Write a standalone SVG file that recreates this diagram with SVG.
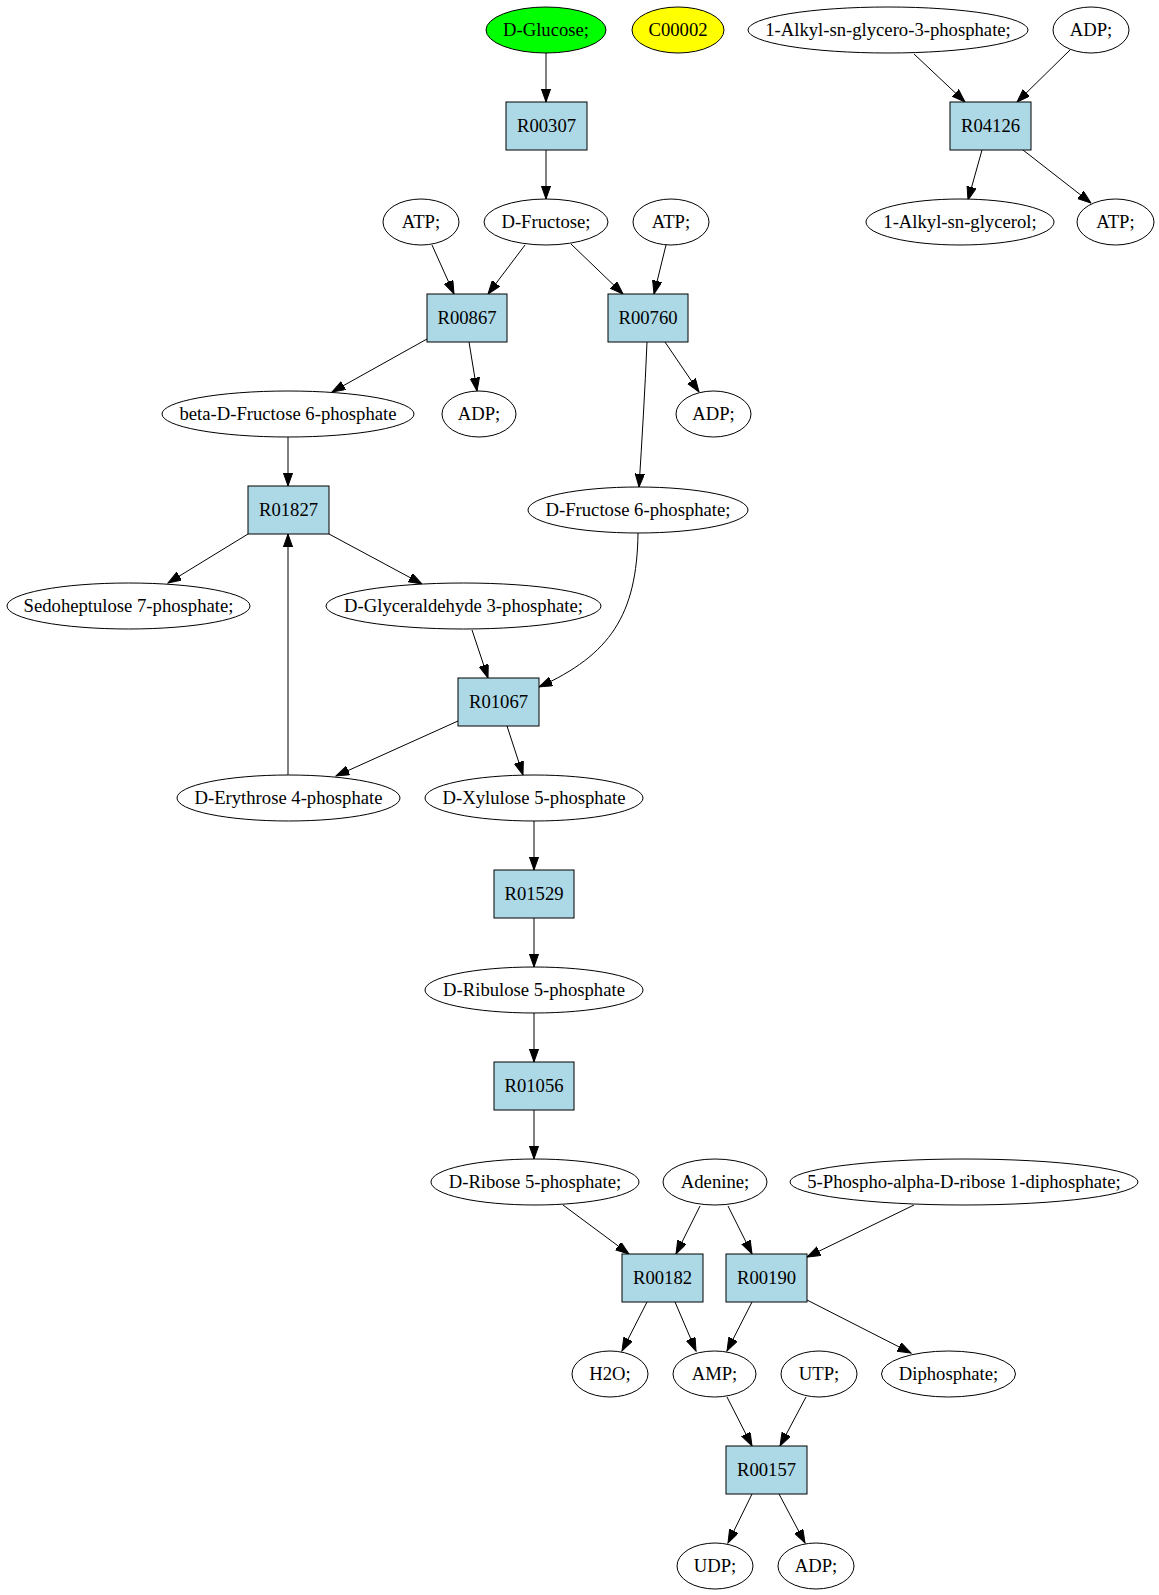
<svg xmlns="http://www.w3.org/2000/svg" width="1159" height="1595" viewBox="0 0 1159 1595">
<style>
.n ellipse{fill:#ffffff;stroke:#000;stroke-width:1}
.n rect{fill:#add8e6;stroke:#000;stroke-width:1}
text{font-family:"Liberation Serif","Times New Roman",serif;font-size:18.67px;text-anchor:middle;fill:#000}
#edges path{fill:none;stroke:#000;stroke-width:1;marker-end:url(#arr)}
</style>
<defs>
<marker id="arr" markerUnits="userSpaceOnUse" markerWidth="14" markerHeight="10" refX="13.3" refY="4.7" orient="auto" viewBox="0 0 14 10">
<path d="M0,0 L13.3,4.7 L0,9.4 z" fill="#000" stroke="#000" stroke-width="1"/>
</marker>
</defs>
<rect x="0" y="0" width="1159" height="1595" fill="#ffffff"/>
<g id="edges">
<path d="M546,53 L546,102"/>
<path d="M546,150 L546,199"/>
<path d="M432,245 L454,294"/>
<path d="M525,245 L488,294"/>
<path d="M571,244 L623,294"/>
<path d="M666,245 L654,294"/>
<path d="M427,339 L332,392"/>
<path d="M469,342 L477,391"/>
<path d="M665,342 L699,392"/>
<path d="M647,342 C645,390 642,440 639,487"/>
<path d="M288,437 L288,486"/>
<path d="M248,534 L168,583"/>
<path d="M329,534 L422,584"/>
<path d="M472,630 L488,678"/>
<path d="M638,533 C637,615 610,655 539,687"/>
<path d="M458,721 L336,776"/>
<path d="M507,726 L523,775"/>
<path d="M288,775 L288,534"/>
<path d="M534,821 L534,870"/>
<path d="M534,918 L534,967"/>
<path d="M534,1013 L534,1062"/>
<path d="M534,1110 L534,1159"/>
<path d="M563,1205 L629,1254"/>
<path d="M700,1206 L676,1254"/>
<path d="M728,1206 L752,1254"/>
<path d="M914,1205 L807,1257"/>
<path d="M647,1302 L622,1351"/>
<path d="M675,1302 L696,1351"/>
<path d="M752,1302 L727,1351"/>
<path d="M807,1300 L911,1353"/>
<path d="M727,1397 L752,1446"/>
<path d="M806,1397 L780,1446"/>
<path d="M752,1494 L728,1543"/>
<path d="M779,1494 L805,1543"/>
<path d="M914,54 L965,102"/>
<path d="M1070,50 L1017,102"/>
<path d="M982,150 L968,200"/>
<path d="M1023,150 L1091,203"/>
</g>
<g id="n_glucose" class="n"><ellipse cx="546" cy="30" rx="60" ry="23" style="fill:#00ff00"/><text x="546" y="36">D-Glucose;</text></g>
<g id="n_c00002" class="n"><ellipse cx="678" cy="30" rx="46" ry="23" style="fill:#ffff00"/><text x="678" y="36">C00002</text></g>
<g id="n_alkylg3p" class="n"><ellipse cx="888" cy="30" rx="140" ry="23"/><text x="888" y="36">1-Alkyl-sn-glycero-3-phosphate;</text></g>
<g id="n_adp1" class="n"><ellipse cx="1091" cy="30" rx="38" ry="23"/><text x="1091" y="36">ADP;</text></g>
<g id="n_R00307" class="n"><rect x="506" y="102" width="81" height="48"/><text x="546.5" y="132">R00307</text></g>
<g id="n_R04126" class="n"><rect x="950" y="102" width="81" height="48"/><text x="990.5" y="132">R04126</text></g>
<g id="n_atp1" class="n"><ellipse cx="421" cy="222" rx="38" ry="23"/><text x="421" y="228">ATP;</text></g>
<g id="n_fructose" class="n"><ellipse cx="546" cy="222" rx="62" ry="23"/><text x="546" y="228">D-Fructose;</text></g>
<g id="n_atp2" class="n"><ellipse cx="671" cy="222" rx="38" ry="23"/><text x="671" y="228">ATP;</text></g>
<g id="n_alkylglycerol" class="n"><ellipse cx="960" cy="222" rx="94" ry="23"/><text x="960" y="228">1-Alkyl-sn-glycerol;</text></g>
<g id="n_atp3" class="n"><ellipse cx="1115.5" cy="222" rx="38.5" ry="23"/><text x="1115.5" y="228">ATP;</text></g>
<g id="n_R00867" class="n"><rect x="427" y="294" width="80" height="48"/><text x="467" y="324">R00867</text></g>
<g id="n_R00760" class="n"><rect x="608" y="294" width="80" height="48"/><text x="648" y="324">R00760</text></g>
<g id="n_bf6p" class="n"><ellipse cx="288" cy="414" rx="126" ry="23"/><text x="288" y="420">beta-D-Fructose 6-phosphate</text></g>
<g id="n_adp2" class="n"><ellipse cx="479" cy="414" rx="37" ry="23"/><text x="479" y="420">ADP;</text></g>
<g id="n_adp3" class="n"><ellipse cx="713.5" cy="414" rx="37.5" ry="23"/><text x="713.5" y="420">ADP;</text></g>
<g id="n_R01827" class="n"><rect x="248" y="486" width="81" height="48"/><text x="288.5" y="516">R01827</text></g>
<g id="n_f6p" class="n"><ellipse cx="638" cy="510" rx="110" ry="23"/><text x="638" y="516">D-Fructose 6-phosphate;</text></g>
<g id="n_s7p" class="n"><ellipse cx="128.5" cy="606" rx="121.5" ry="23"/><text x="128.5" y="612">Sedoheptulose 7-phosphate;</text></g>
<g id="n_g3p" class="n"><ellipse cx="463.5" cy="606" rx="137.5" ry="23"/><text x="463.5" y="612">D-Glyceraldehyde 3-phosphate;</text></g>
<g id="n_R01067" class="n"><rect x="458" y="678" width="81" height="48"/><text x="498.5" y="708">R01067</text></g>
<g id="n_e4p" class="n"><ellipse cx="288.5" cy="798" rx="111.5" ry="23"/><text x="288.5" y="804">D-Erythrose 4-phosphate</text></g>
<g id="n_x5p" class="n"><ellipse cx="534" cy="798" rx="109" ry="23"/><text x="534" y="804">D-Xylulose 5-phosphate</text></g>
<g id="n_R01529" class="n"><rect x="494" y="870" width="80" height="48"/><text x="534" y="900">R01529</text></g>
<g id="n_ru5p" class="n"><ellipse cx="534" cy="990" rx="109" ry="23"/><text x="534" y="996">D-Ribulose 5-phosphate</text></g>
<g id="n_R01056" class="n"><rect x="494" y="1062" width="80" height="48"/><text x="534" y="1092">R01056</text></g>
<g id="n_r5p" class="n"><ellipse cx="535" cy="1182" rx="104" ry="23"/><text x="535" y="1188">D-Ribose 5-phosphate;</text></g>
<g id="n_adenine" class="n"><ellipse cx="715" cy="1182" rx="52" ry="23"/><text x="715" y="1188">Adenine;</text></g>
<g id="n_prpp" class="n"><ellipse cx="964" cy="1182" rx="174" ry="23"/><text x="964" y="1188">5-Phospho-alpha-D-ribose 1-diphosphate;</text></g>
<g id="n_R00182" class="n"><rect x="622" y="1254" width="81" height="48"/><text x="662.5" y="1284">R00182</text></g>
<g id="n_R00190" class="n"><rect x="726" y="1254" width="81" height="48"/><text x="766.5" y="1284">R00190</text></g>
<g id="n_h2o" class="n"><ellipse cx="610" cy="1374" rx="38" ry="23"/><text x="610" y="1380">H2O;</text></g>
<g id="n_amp" class="n"><ellipse cx="714.5" cy="1374" rx="41.5" ry="23"/><text x="714.5" y="1380">AMP;</text></g>
<g id="n_utp" class="n"><ellipse cx="819" cy="1374" rx="38" ry="23"/><text x="819" y="1380">UTP;</text></g>
<g id="n_ppi" class="n"><ellipse cx="948.5" cy="1374" rx="67" ry="23"/><text x="948.5" y="1380">Diphosphate;</text></g>
<g id="n_R00157" class="n"><rect x="726" y="1446" width="81" height="48"/><text x="766.5" y="1476">R00157</text></g>
<g id="n_udp" class="n"><ellipse cx="715" cy="1566" rx="38" ry="23"/><text x="715" y="1572">UDP;</text></g>
<g id="n_adp4" class="n"><ellipse cx="816" cy="1566" rx="38" ry="23"/><text x="816" y="1572">ADP;</text></g>
</svg>
